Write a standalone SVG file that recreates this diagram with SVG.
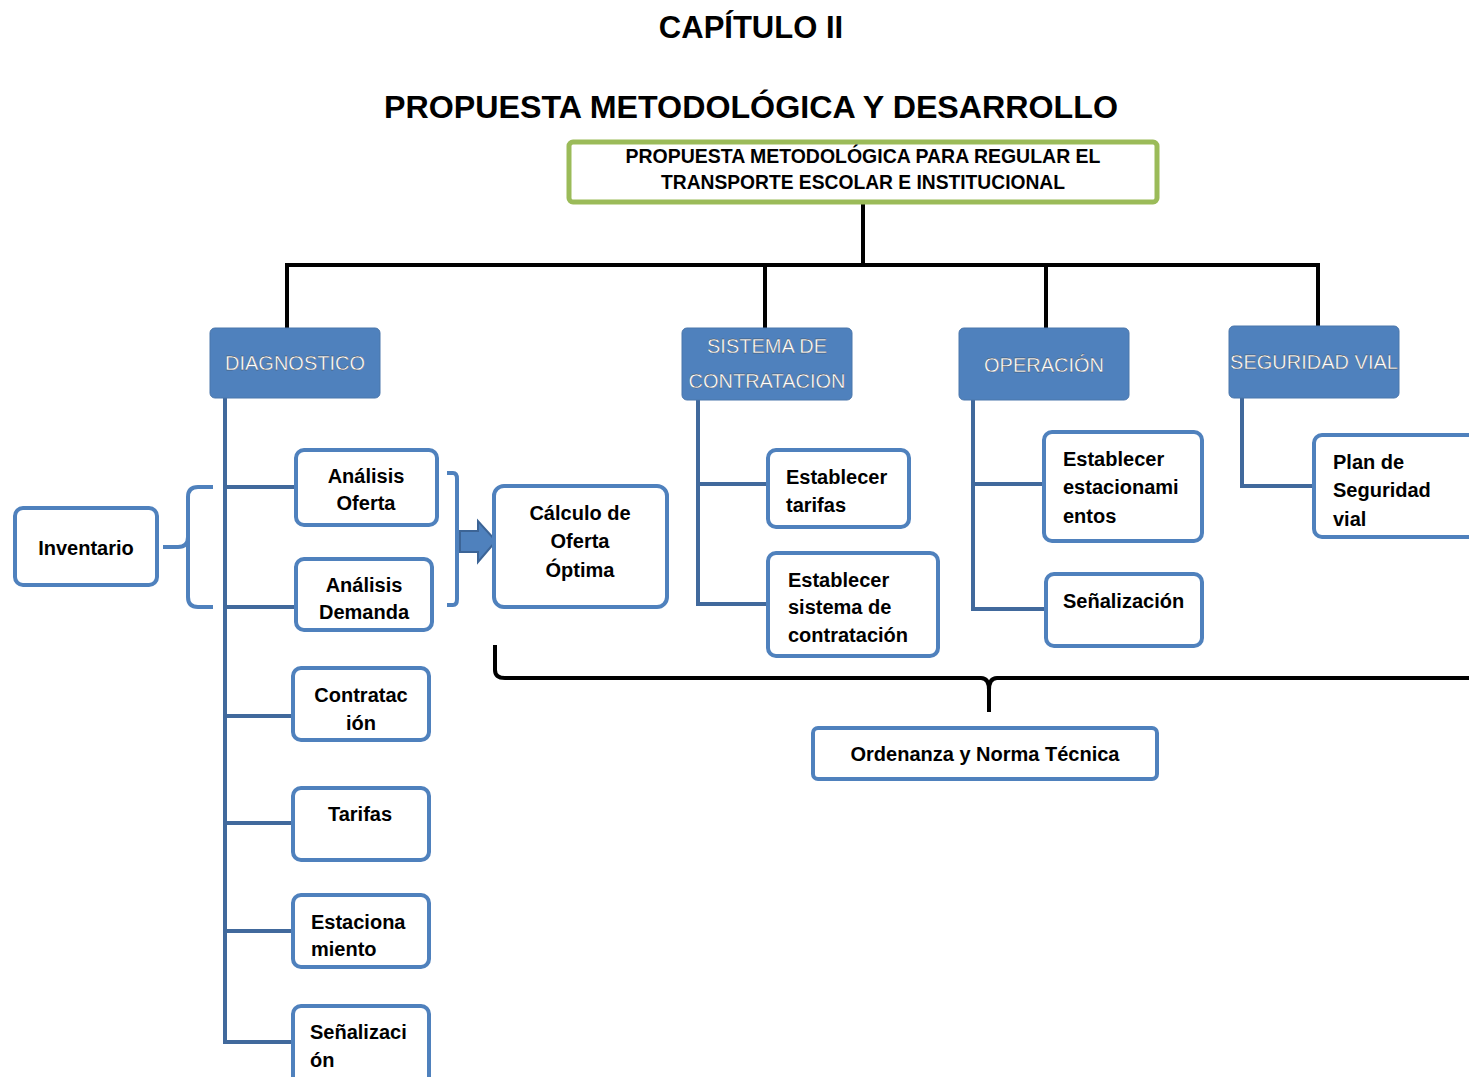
<svg xmlns="http://www.w3.org/2000/svg" width="1469" height="1077" viewBox="0 0 1469 1077">
<defs>
<style>
.title{font-family:"Liberation Sans",Arial,sans-serif;font-weight:bold;font-size:31px;fill:#000;text-anchor:middle}
.hdr rect{fill:#4f81bd;stroke:#4a76ab;stroke-width:1}
.hdr text{font-family:"Liberation Sans",Arial,sans-serif;font-size:20px;fill:#fff;text-anchor:middle;stroke:#3d3d3d;stroke-width:0.3}
.box rect{fill:#fff;stroke:#4f81bd;stroke-width:4}
.box text{font-family:"Liberation Sans",Arial,sans-serif;font-weight:bold;font-size:20px;fill:#000}
.c{text-anchor:middle}
.blk{fill:none;stroke:#000;stroke-width:4}
.blu{fill:none;stroke:#41699c;stroke-width:4}
.brc{fill:none;stroke:#4f81bd;stroke-width:4}
</style>
</defs>
<rect width="1469" height="1077" fill="#fff"/>
<text class="title" x="751" y="38">CAPÍTULO II</text>
<text class="title" x="751" y="118" textLength="734" lengthAdjust="spacingAndGlyphs">PROPUESTA METODOLÓGICA Y DESARROLLO</text>

<g id="connectors">
<path class="blk" d="M863 202V265M287 265H1318M287 263V328M765 263V328M1046 263V328M1318 263V326"/>
<path class="blu" d="M225 392V1042M223 487H296M223 607H296M223 716H293M223 823H293M223 931H293M223 1042H293"/>
<path class="blu" d="M698 395V604H768M696 484H768"/>
<path class="blu" d="M973 393V609H1046M971 484H1044"/>
<path class="blu" d="M1242 398V486H1314"/>
<path class="brc" d="M213 487H198Q188 487 188 497V537Q188 547 178 547H163M188 537V597Q188 607 198 607H213"/>
<path class="brc" d="M447 473H453Q457 473 457 479V599Q457 605 453 605H447"/>
<path d="M460 531H478V521L496 541L478 562V552H460Z" fill="#4f81bd" stroke="#3c6496" stroke-width="2"/>
<path class="blk" d="M495 645V670Q495 678 505 678H981Q989 678 989 690V712M989 690Q989 678 997 678H1469"/>
</g>

<g id="root" class="box"><rect x="569" y="142" width="588" height="60" rx="4" style="stroke:#9bbb59;stroke-width:5"/>
<text class="c" x="863" y="163" font-size="19" textLength="475" lengthAdjust="spacingAndGlyphs">PROPUESTA METODOLÓGICA PARA REGULAR EL</text>
<text class="c" x="863" y="189" font-size="19" textLength="404" lengthAdjust="spacingAndGlyphs">TRANSPORTE ESCOLAR E INSTITUCIONAL</text></g>

<g id="diagnostico" class="hdr"><rect x="210" y="328" width="170" height="70" rx="5"/><text x="295" y="370">DIAGNOSTICO</text></g>
<g id="sistema" class="hdr"><rect x="682" y="328" width="170" height="72" rx="5"/><text x="767" y="353">SISTEMA DE</text><text x="767" y="388">CONTRATACION</text></g>
<g id="operacion" class="hdr"><rect x="959" y="328" width="170" height="72" rx="5"/><text x="1044" y="372">OPERACIÓN</text></g>
<g id="seguridad" class="hdr"><rect x="1229" y="326" width="170" height="72" rx="5"/><text x="1314" y="369">SEGURIDAD VIAL</text></g>

<g id="inventario" class="box"><rect x="15" y="508" width="142" height="77" rx="8"/><text class="c" x="86" y="555">Inventario</text></g>
<g id="analisis-oferta" class="box"><rect x="296" y="450" width="141" height="75" rx="8"/><text class="c" x="366" y="483">Análisis</text><text class="c" x="366" y="510">Oferta</text></g>
<g id="analisis-demanda" class="box"><rect x="296" y="559" width="136" height="71" rx="8"/><text class="c" x="364" y="592">Análisis</text><text class="c" x="364" y="619">Demanda</text></g>
<g id="contratacion" class="box"><rect x="293" y="668" width="136" height="72" rx="8"/><text class="c" x="361" y="702">Contratac</text><text class="c" x="361" y="730">ión</text></g>
<g id="tarifas" class="box"><rect x="293" y="788" width="136" height="72" rx="8"/><text class="c" x="360" y="821">Tarifas</text></g>
<g id="estacionamiento" class="box"><rect x="293" y="895" width="136" height="72" rx="8"/><text x="311" y="929">Estaciona</text><text x="311" y="956">miento</text></g>
<g id="senalizacion-d" class="box"><rect x="293" y="1006" width="136" height="80" rx="8"/><text x="310" y="1039">Señalizaci</text><text x="310" y="1067">ón</text></g>
<g id="calculo" class="box"><rect x="494" y="486" width="173" height="121" rx="10"/><text class="c" x="580" y="520">Cálculo de</text><text class="c" x="580" y="548">Oferta</text><text class="c" x="580" y="577">Óptima</text></g>
<g id="est-tarifas" class="box"><rect x="768" y="450" width="141" height="77" rx="8"/><text x="786" y="484">Establecer</text><text x="786" y="512">tarifas</text></g>
<g id="est-sistema" class="box"><rect x="768" y="553" width="170" height="103" rx="8"/><text x="788" y="587">Establecer</text><text x="788" y="614">sistema de</text><text x="788" y="642">contratación</text></g>
<g id="est-estac" class="box"><rect x="1044" y="432" width="158" height="109" rx="8"/><text x="1063" y="466">Establecer</text><text x="1063" y="494">estacionami</text><text x="1063" y="523">entos</text></g>
<g id="senalizacion-o" class="box"><rect x="1046" y="574" width="156" height="72" rx="8"/><text x="1063" y="608">Señalización</text></g>
<g id="plan" class="box"><rect x="1314" y="435" width="170" height="102" rx="8"/><text x="1333" y="469">Plan de</text><text x="1333" y="497">Seguridad</text><text x="1333" y="526">vial</text></g>
<g id="ordenanza" class="box"><rect x="813" y="728" width="344" height="51" rx="5"/><text class="c" x="985" y="761" font-size="19">Ordenanza y Norma Técnica</text></g>
</svg>
